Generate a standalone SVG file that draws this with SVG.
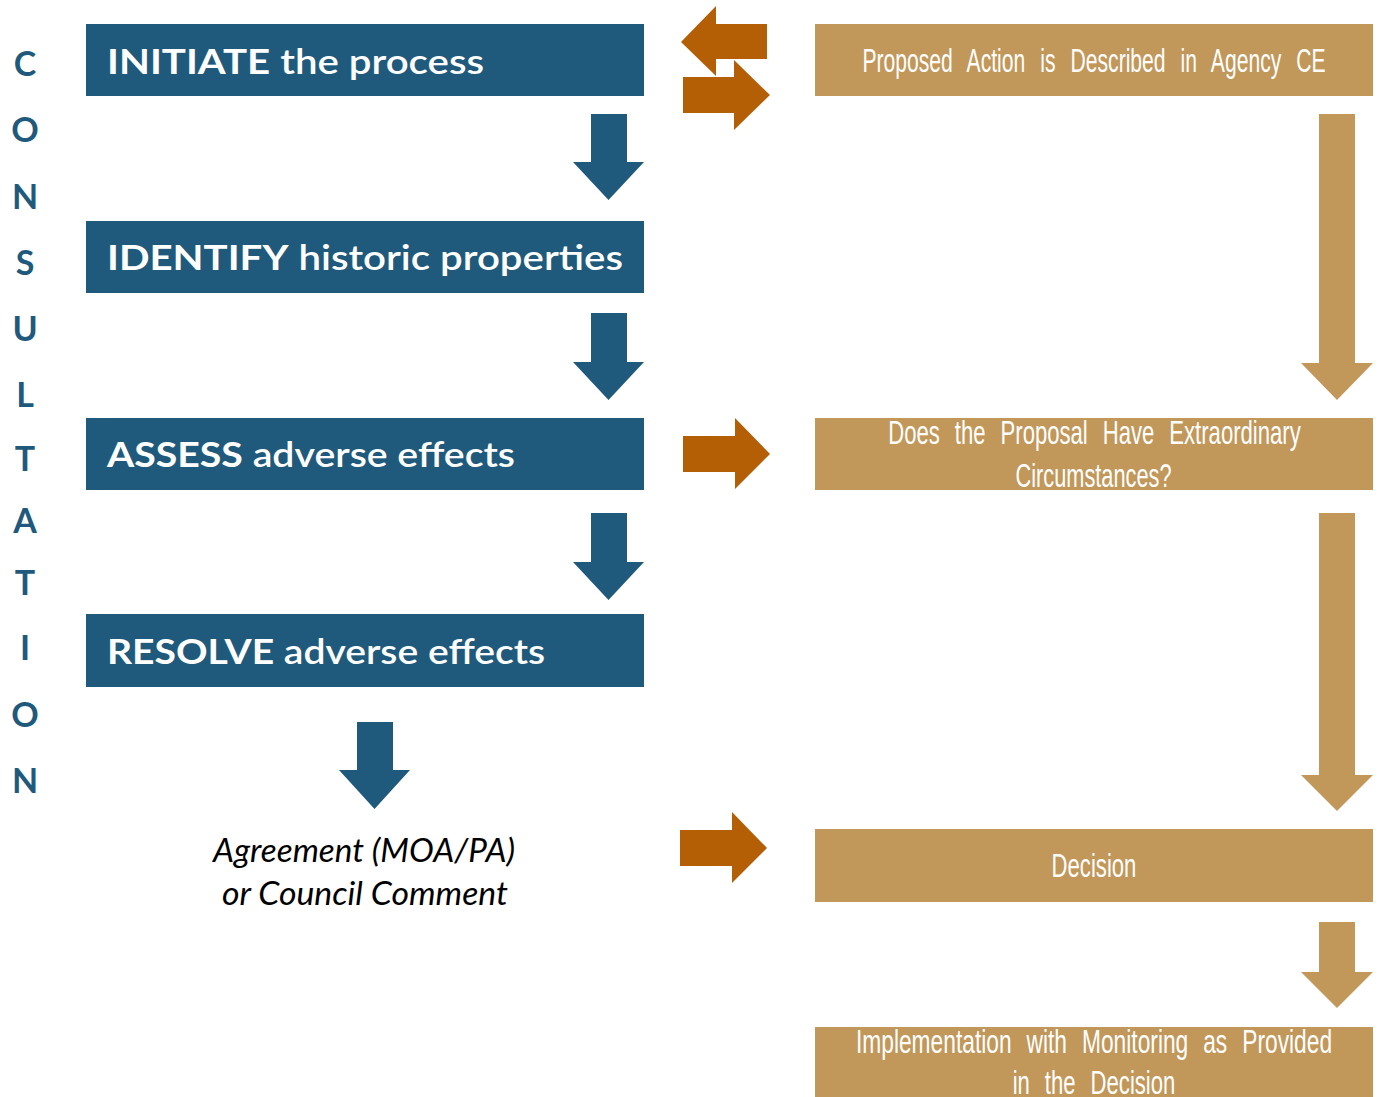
<svg xmlns="http://www.w3.org/2000/svg" width="1379" height="1097" viewBox="0 0 1379 1097">
<defs>
<style>
.bbox{fill:#1F5A7D}
.tbox{fill:#C2975A}
.barr{fill:#1F5A7D}
.tarr{fill:#C2975A}
.oarr{fill:#B45F06}
.btxt{font-family:Lato,"Open Sans",sans-serif;font-weight:700;font-size:34px;fill:#FFFFFF}
.ttxt{font-family:"Liberation Sans",Arial,sans-serif;font-size:33px;fill:#FFFFFF;text-anchor:middle}
.vtxt{font-family:Lato,"Open Sans",sans-serif;font-weight:700;font-size:34px;fill:#1F5A7D;text-anchor:middle}
.itxt{font-family:Lato,"Open Sans",sans-serif;font-style:italic;font-size:33px;fill:#000000;text-anchor:middle}
</style>
</defs>
<rect width="1379" height="1097" fill="#FFFFFF"/>
<g id="consultation-label">
<text class="vtxt" x="25" y="76">C</text>
<text class="vtxt" x="25" y="142">O</text>
<text class="vtxt" x="25" y="209">N</text>
<text class="vtxt" x="25" y="275">S</text>
<text class="vtxt" x="25" y="341">U</text>
<text class="vtxt" x="25" y="407">L</text>
<text class="vtxt" x="25" y="471">T</text>
<text class="vtxt" x="25" y="533">A</text>
<text class="vtxt" x="25" y="595">T</text>
<text class="vtxt" x="25" y="660">I</text>
<text class="vtxt" x="25" y="727">O</text>
<text class="vtxt" x="25" y="793">N</text>
</g>
<g id="initiate">
<rect class="bbox" x="86" y="24" width="558" height="72"/>
<text class="btxt" x="107" y="74" textLength="377" lengthAdjust="spacingAndGlyphs">INITIATE<tspan font-weight="600"> the process</tspan></text>
</g>
<g id="identify">
<rect class="bbox" x="86" y="221" width="558" height="72"/>
<text class="btxt" x="107" y="270" textLength="516" lengthAdjust="spacingAndGlyphs">IDENTIFY<tspan font-weight="600"> historic properties</tspan></text>
</g>
<g id="assess">
<rect class="bbox" x="86" y="418" width="558" height="72"/>
<text class="btxt" x="107" y="467" textLength="408" lengthAdjust="spacingAndGlyphs">ASSESS<tspan font-weight="600"> adverse effects</tspan></text>
</g>
<g id="resolve">
<rect class="bbox" x="86" y="614" width="558" height="73"/>
<text class="btxt" x="107" y="664" textLength="438" lengthAdjust="spacingAndGlyphs">RESOLVE<tspan font-weight="600"> adverse effects</tspan></text>
</g>
<g id="agreement">
<text class="itxt" x="364" y="862" textLength="302" lengthAdjust="spacingAndGlyphs">Agreement (MOA/PA)</text>
<text class="itxt" x="365" y="905" textLength="286" lengthAdjust="spacingAndGlyphs">or Council Comment</text>
</g>
<g id="proposed-action">
<rect class="tbox" x="815" y="24" width="558" height="72"/>
<text class="ttxt" transform="translate(1094,72) scale(0.64,1)" word-spacing="14.3">Proposed Action is Described in Agency CE</text>
</g>
<g id="extraordinary">
<rect class="tbox" x="815" y="418" width="558" height="72"/>
<text class="ttxt" transform="translate(1094.5,444) scale(0.67,1)" word-spacing="13.2">Does the Proposal Have Extraordinary</text>
<text class="ttxt" transform="translate(1093.5,487) scale(0.66,1)">Circumstances?</text>
</g>
<g id="decision">
<rect class="tbox" x="815" y="829" width="558" height="73"/>
<text class="ttxt" transform="translate(1094,877) scale(0.67,1)">Decision</text>
</g>
<g id="implementation">
<rect class="tbox" x="815" y="1027" width="558" height="70"/>
<text class="ttxt" transform="translate(1094,1053) scale(0.69,1)" word-spacing="12.5">Implementation with Monitoring as Provided</text>
<text class="ttxt" transform="translate(1094,1094) scale(0.67,1)" word-spacing="13.2">in the Decision</text>
</g>
<g id="connectors">
<polygon class="barr" points="591,114 627,114 627,162 644,162 608.5,200 573,162 591,162"/>
<polygon class="barr" points="591,313 627,313 627,362 644,362 608.5,400 573,362 591,362"/>
<polygon class="barr" points="591,513 627,513 627,562 644,562 608.5,600 573,562 591,562"/>
<polygon class="barr" points="357,722 393,722 393,770 410,770 374.5,809 339,770 357,770"/>
<polygon class="tarr" points="1319,114 1355,114 1355,363 1373,363 1337,400 1301,363 1319,363"/>
<polygon class="tarr" points="1319,513 1355,513 1355,775 1373,775 1337,811 1301,775 1319,775"/>
<polygon class="tarr" points="1319,922 1355,922 1355,972 1373,972 1337,1008 1301,972 1319,972"/>
<polygon class="oarr" points="767,24 716,24 716,6 681,42 716,76 716,59 767,59"/>
<polygon class="oarr" points="683,77 734,77 734,60 770,95 734,130 734,113 683,113"/>
<polygon class="oarr" points="683,436 735,436 735,418 770,454 735,489 735,472 683,472"/>
<polygon class="oarr" points="680,830 732,830 732,812 767,848 732,883 732,866 680,866"/>
</g>
</svg>
